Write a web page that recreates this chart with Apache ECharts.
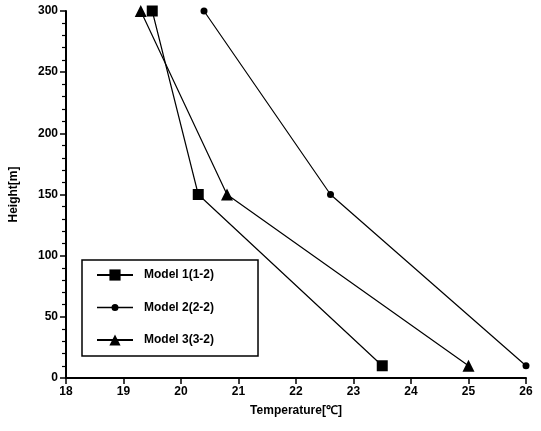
<!DOCTYPE html>
<html>
<head>
<meta charset="utf-8">
<script src="https://cdn.jsdelivr.net/npm/echarts@6/dist/echarts.min.js"></script>
<style>
  html, body { margin: 0; padding: 0; background: #fff; }
  #chart { width: 541px; height: 431px; }
</style>
</head>
<body>
<div id="chart"></div>
<script>
// heights (m) shared by all models
const heights = [10, 150, 300];

// temperatures
const model1Temps = [23.5, 20.3, 19.5];
const model2Temps = [26.0, 22.6, 20.4];
const model3Temps = [25.0, 20.8, 19.3];

const seriesNames = ['Model 1(1-2)', 'Model 2(2-2)', 'Model 3(3-2)'];

const toPoints = (temps) => temps.map((t, i) => [t, heights[i]]);

const font = 'Arial, "Liberation Sans", sans-serif';

// legend icon for the circle model: line with a small dot (corner specks keep the box size)
const smallDotIcon = 'path://M0 0L0.01 0L0.01 0.01Z M36 14L35.99 14L35.99 13.99Z ' +
  'M0 6.3L14.6 6.3L14.6 7.7L0 7.7Z M21.4 6.3L36 6.3L36 7.7L21.4 7.7Z ' +
  'M14.5 7A3.5 3.5 0 1 1 21.5 7A3.5 3.5 0 1 1 14.5 7Z';

const chart = echarts.init(document.getElementById('chart'));

const baseSeries = (name, temps, symbol, size) => ({
  name: name,
  type: 'line',
  data: toPoints(temps),
  symbol: symbol,
  symbolSize: size,
  showAllSymbol: true,
  lineStyle: { color: '#000', width: 1.2 },
  itemStyle: { color: '#000', borderWidth: 0 },
  emphasis: { disabled: true },
  animation: false
});

const option = {
  backgroundColor: '#fff',
  grid: { left: 65, right: 15, top: 11, bottom: 53 },
  xAxis: {
    type: 'value',
    min: 18,
    max: 26,
    interval: 1,
    name: 'Temperature[\u2103]',
    nameLocation: 'middle',
    nameGap: 27,
    nameTextStyle: { color: '#000', fontSize: 12, fontWeight: 'bold', fontFamily: font },
    axisLine: { lineStyle: { color: '#000', width: 2 } },
    axisTick: { inside: false, length: 6, lineStyle: { color: '#000', width: 1.5 } },
    axisLabel: { color: '#000', fontSize: 12, fontWeight: 'bold', fontFamily: font, margin: 8 },
    splitLine: { show: false }
  },
  yAxis: {
    type: 'value',
    min: 0,
    max: 300,
    interval: 50,
    name: 'Height[m]',
    nameLocation: 'middle',
    nameGap: 46,
    nameTextStyle: { color: '#000', fontSize: 12, fontWeight: 'bold', fontFamily: font },
    axisLine: { show: true, lineStyle: { color: '#000', width: 2 } },
    axisTick: { inside: false, length: 6, lineStyle: { color: '#000', width: 1.5 } },
    minorTick: { show: true, splitNumber: 5, length: 4, lineStyle: { color: '#000', width: 1.2 } },
    axisLabel: { color: '#000', fontSize: 12, fontWeight: 'bold', fontFamily: font, margin: 8 },
    splitLine: { show: false }
  },
  legend: {
    orient: 'vertical',
    left: 82,
    top: 260,
    padding: [9, 44, 10, 14],
    itemGap: 19.5,
    itemWidth: 36,
    itemHeight: 14,
    borderColor: '#000',
    borderWidth: 1.5,
    borderRadius: 0,
    textStyle: { color: '#000', fontSize: 12, fontWeight: 'bold', fontFamily: font, padding: [0, 0, 0, 6] },
    data: [
      { name: seriesNames[0] },
      { name: seriesNames[1], icon: smallDotIcon },
      { name: seriesNames[2] }
    ]
  },
  series: [
    baseSeries(seriesNames[0], model1Temps, 'rect', 11),
    baseSeries(seriesNames[1], model2Temps, 'circle', 7),
    baseSeries(seriesNames[2], model3Temps, 'triangle', 12)
  ]
};

chart.setOption(option);
</script>
</body>
</html>
